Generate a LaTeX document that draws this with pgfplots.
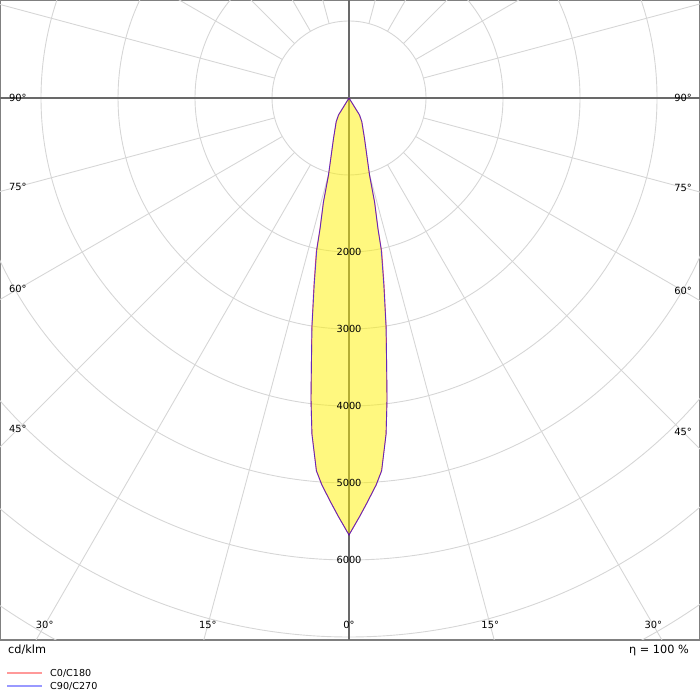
\documentclass[border=0pt]{standalone}
\usepackage{pgfplots}
\pgfplotsset{compat=1.18}
\usepackage{pgfplotstable}
\usepackage{fontspec}
\setmainfont{DejaVu Sans}

\definecolor{gridc}{RGB}{214,214,214}
\definecolor{axisc}{RGB}{105,105,105}
\definecolor{framec}{RGB}{128,128,128}

% signed gamma (negative = C180 / C270 half), intensity in cd/klm
\pgfplotstableread{
g I
-40 0
-31.7 260
-28.4 350
-21 561
-14.9 1035
-13.8 1400
-12.5 1750
-12 2050
-10.6 2480
-9.2 3020
-8 3510
-7.2 3940
-6.3 4390
-5 4860
-4 5040
-2.5 5270
-1.5 5430
0 5675
1.5 5430
2.5 5270
4 5040
5 4860
6.3 4390
7.2 3940
8 3510
9.2 3020
10.6 2480
12 2050
12.5 1750
13.8 1400
14.9 1035
21 561
28.4 350
31.7 260
40 0
}\czero

\pgfplotstableread{
g I
-40 0
-31.7 260
-28.4 350
-21 561
-14.9 1040
-13.8 1390
-12.5 1730
-12 2010
-10.6 2450
-9.2 3010
-8 3510
-7.2 3940
-6.3 4390
-5 4860
-4 5040
-2.5 5270
-1.5 5430
0 5675
1.5 5430
2.5 5270
4 5040
5 4860
6.3 4390
7.2 3940
8 3510
9.2 3010
10.6 2450
12 2010
12.5 1730
13.8 1390
14.9 1040
21 561
28.4 350
31.7 260
40 0
}\cninety

\begin{document}
\begin{tikzpicture}
\begin{axis}[
  x=0.077pt, y=0.077pt,
  xmin=-4532.5, xmax=4558.4,
  ymin=-7039, ymax=1272.7,
  xtick=\empty, ytick=\empty,
  axis line style={draw=framec, line width=1.4pt},
  clip=true,
]
\coordinate (bl) at (rel axis cs:0,0);
\coordinate (tr) at (rel axis cs:1,1);

% grid circles
\pgfplotsinvokeforeach{77,154,231,308,385,462,539,616}{
  \draw[gridc, line width=0.9pt] (axis cs:0,0) circle[radius=#1pt];
}
% radial grid lines every 15 degrees
\pgfplotsinvokeforeach{15,30,45,60,75,105,120,135,150,165,195,210,225,240,255,285,300,315,330,345}{
  \addplot[gridc, line width=0.9pt, data cs=polar] coordinates {(#1,1000) (#1,12000)};
}
% main axes
\addplot[axisc, line width=1.4pt] coordinates {(0,-8000) (0,2000)};
\addplot[axisc, line width=1.4pt] coordinates {(-5000,0) (5000,0)};

% curves
\addplot[draw=none, fill=yellow, fill opacity=0.5, data cs=polar]
  table[x expr=\thisrow{g}-90, y=I] {\cninety} -- cycle;
\addplot[red, opacity=0.6, line width=0.9pt, data cs=polar]
  table[x expr=\thisrow{g}-90, y=I] {\czero};
\addplot[blue, opacity=0.6, line width=0.9pt, data cs=polar]
  table[x expr=\thisrow{g}-90, y=I] {\cninety};

% intensity labels
\pgfplotsinvokeforeach{2000,3000,4000,5000,6000}{
  \node[font=\fontsize{9.8}{11}\selectfont] at (axis cs:0,-#1) {#1};
}
% angle labels
\begin{scope}[font=\fontsize{9.9}{11}\selectfont]
\node at (axis cs:-4300,0) {90°};
\node at (axis cs:-4300,-1152) {75°};
\node at (axis cs:-4300,-2483) {60°};
\node at (axis cs:-4300,-4300) {45°};
\node at (axis cs:4338,0) {90°};
\node at (axis cs:4338,-1162) {75°};
\node at (axis cs:4338,-2505) {60°};
\node at (axis cs:4338,-4338) {45°};
\node at (axis cs:-3952,-6844) {30°};
\node at (axis cs:-1834,-6844) {15°};
\node at (axis cs:0,-6844) {0°};
\node at (axis cs:1834,-6844) {15°};
\node at (axis cs:3952,-6844) {30°};
\end{scope}
\end{axis}

% texts below the diagram
\node[anchor=west, inner sep=0pt, font=\fontsize{11.3}{13}\selectfont]
  at ([xshift=8pt, yshift=-10pt]bl) {cd/klm};
\node[anchor=east, inner sep=0pt, font=\fontsize{11.3}{13}\selectfont]
  at ([xshift=-11pt, yshift=-10pt]bl -| tr) {η = 100 \%};
% legend
\draw[red, opacity=0.4, line width=1.4pt]
  ([xshift=7pt, yshift=-33pt]bl) -- ++(35pt,0);
\node[anchor=west, inner sep=0pt, font=\fontsize{9.6}{11}\selectfont]
  at ([xshift=50pt, yshift=-33pt]bl) {C0/C180};
\draw[blue, opacity=0.4, line width=1.4pt]
  ([xshift=7pt, yshift=-46pt]bl) -- ++(35pt,0);
\node[anchor=west, inner sep=0pt, font=\fontsize{9.6}{11}\selectfont]
  at ([xshift=50pt, yshift=-46pt]bl) {C90/C270};

\pgfresetboundingbox
\path (bl) ++(0,-60pt) rectangle (tr);
\end{tikzpicture}
\end{document}
